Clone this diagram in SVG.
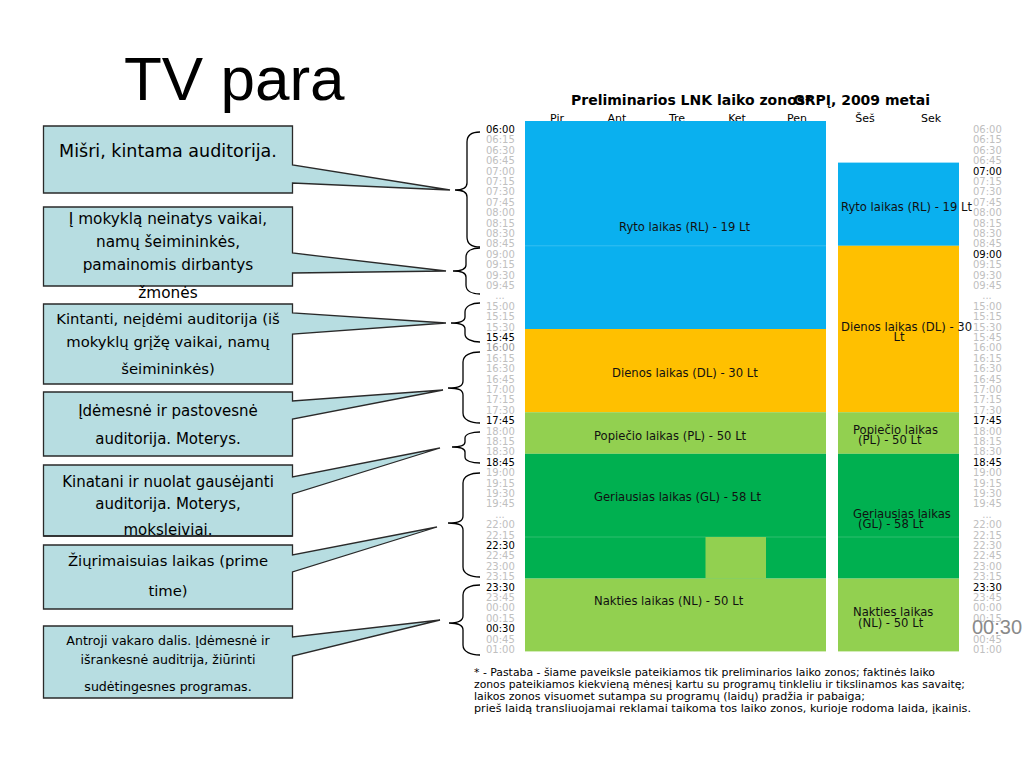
<svg xmlns="http://www.w3.org/2000/svg" width="1024" height="768" viewBox="0 0 1024 768">
<style>
.bx{fill:#b7dde1;stroke:#2a2a2a;stroke-width:1.3}
.bo{fill:none;stroke:#2a2a2a;stroke-width:1.3}
.ct{font-family:"DejaVu Sans",Verdana,sans-serif;fill:#000;text-anchor:middle}
.tl{font-family:"DejaVu Sans",Verdana,sans-serif;font-size:10px;fill:#c0c0c0}
.dk{fill:#000}
.zl{font-family:"DejaVu Sans",Verdana,sans-serif;font-size:11.6px;fill:#111}
.dy{font-family:"DejaVu Sans",Verdana,sans-serif;font-size:11px;fill:#000;text-anchor:middle}
.hd{font-family:"DejaVu Sans",Verdana,sans-serif;font-size:14px;font-weight:bold;fill:#000}
.fn{font-family:"DejaVu Sans",Verdana,sans-serif;font-size:11px;fill:#000}
.br{fill:none;stroke:#000;stroke-width:1.3}
.sep{stroke:#ffffff;stroke-opacity:0.18;stroke-width:1}
</style>
<rect width="1024" height="768" fill="#ffffff"/>
<text x="124" y="100" font-family="Liberation Sans,Arial,sans-serif" font-size="62" fill="#000">TV para</text>

<g id="header">
<text class="hd" x="571" y="105">Preliminarios LNK laiko zonos*</text>
<text class="hd" x="930" y="105" text-anchor="end">GRPĮ, 2009 metai</text>
<text class="dy" x="557" y="122">Pir</text>
<text class="dy" x="617" y="122">Ant</text>
<text class="dy" x="677" y="122">Tre</text>
<text class="dy" x="737" y="122">Ket</text>
<text class="dy" x="797" y="122">Pen</text>
<text class="dy" x="865" y="122">Šeš</text>
<text class="dy" x="931" y="122">Sek</text>
</g>

<g id="weekday-zones">
<rect x="525" y="121" width="301" height="208" fill="#0ab0ef"/>
<line class="sep" x1="525" y1="245.8" x2="826" y2="245.8"/>
<rect x="525" y="329" width="301" height="83.2" fill="#ffc000"/>
<rect x="525" y="412.2" width="301" height="41.6" fill="#92d050"/>
<rect x="525" y="453.8" width="301" height="124.8" fill="#00b050"/>
<line class="sep" x1="525" y1="537" x2="826" y2="537"/>
<rect x="705.5" y="537" width="60.5" height="41.6" fill="#92d050"/>
<rect x="525" y="578.6" width="301" height="72.8" fill="#92d050"/>
<text class="zl" x="619" y="231">Ryto laikas (RL) - 19 Lt</text>
<text class="zl" x="612" y="377">Dienos laikas (DL) - 30 Lt</text>
<text class="zl" x="594" y="440">Popiečio laikas (PL) - 50 Lt</text>
<text class="zl" x="594" y="501">Geriausias laikas (GL) - 58 Lt</text>
<text class="zl" x="594" y="605">Nakties laikas (NL) - 50 Lt</text>
</g>

<g id="weekend-zones">
<rect x="838" y="162.6" width="121" height="83.2" fill="#0ab0ef"/>
<rect x="838" y="245.8" width="121" height="166.4" fill="#ffc000"/>
<rect x="838" y="412.2" width="121" height="41.6" fill="#92d050"/>
<rect x="838" y="453.8" width="121" height="124.8" fill="#00b050"/>
<line class="sep" x1="838" y1="537" x2="959" y2="537"/>
<rect x="838" y="578.6" width="121" height="72.8" fill="#92d050"/>
<text class="zl" x="841" y="211">Ryto laikas (RL) - 19 Lt</text>
<text class="zl" x="841" y="331">Dienos laikas (DL) - 30</text>
<text class="zl" x="899" y="341" text-anchor="middle">Lt</text>
<text class="zl" x="853" y="434">Popiečio laikas</text>
<text class="zl" x="858" y="444">(PL) - 50 Lt</text>
<text class="zl" x="853" y="518">Geriausias laikas</text>
<text class="zl" x="858" y="528">(GL) - 58 Lt</text>
<text class="zl" x="853" y="616">Nakties laikas</text>
<text class="zl" x="858" y="627">(NL) - 50 Lt</text>
</g>

<g id="times-left">
<text class="tl dk" x="486" y="133">06:00</text>
<text class="tl" x="486" y="143.4">06:15</text>
<text class="tl" x="486" y="153.8">06:30</text>
<text class="tl" x="486" y="164.2">06:45</text>
<text class="tl" x="486" y="174.6">07:00</text>
<text class="tl" x="486" y="185">07:15</text>
<text class="tl" x="486" y="195.4">07:30</text>
<text class="tl" x="486" y="205.8">07:45</text>
<text class="tl" x="486" y="216.2">08:00</text>
<text class="tl" x="486" y="226.6">08:15</text>
<text class="tl" x="486" y="237">08:30</text>
<text class="tl" x="486" y="247.4">08:45</text>
<text class="tl" x="486" y="257.8">09:00</text>
<text class="tl" x="486" y="268.2">09:15</text>
<text class="tl" x="486" y="278.6">09:30</text>
<text class="tl" x="486" y="289">09:45</text>
<text class="tl" x="500" y="299.4" text-anchor="middle">...</text>
<text class="tl" x="486" y="309.8">15:00</text>
<text class="tl" x="486" y="320.2">15:15</text>
<text class="tl" x="486" y="330.6">15:30</text>
<text class="tl dk" x="486" y="341">15:45</text>
<text class="tl" x="486" y="351.4" style="fill:#9a9a9a">16:00</text>
<text class="tl" x="486" y="361.8">16:15</text>
<text class="tl" x="486" y="372.2">16:30</text>
<text class="tl" x="486" y="382.6">16:45</text>
<text class="tl" x="486" y="393">17:00</text>
<text class="tl" x="486" y="403.4">17:15</text>
<text class="tl" x="486" y="413.8">17:30</text>
<text class="tl dk" x="486" y="424.2">17:45</text>
<text class="tl" x="486" y="434.6">18:00</text>
<text class="tl" x="486" y="445">18:15</text>
<text class="tl" x="486" y="455.4">18:30</text>
<text class="tl dk" x="486" y="465.8">18:45</text>
<text class="tl" x="486" y="476.2">19:00</text>
<text class="tl" x="486" y="486.6">19:15</text>
<text class="tl" x="486" y="497">19:30</text>
<text class="tl" x="486" y="507.4">19:45</text>
<text class="tl" x="500" y="517.8" text-anchor="middle">...</text>
<text class="tl" x="486" y="528.2">22:00</text>
<text class="tl" x="486" y="538.6">22:15</text>
<text class="tl dk" x="486" y="549">22:30</text>
<text class="tl" x="486" y="559.4">22:45</text>
<text class="tl" x="486" y="569.8">23:00</text>
<text class="tl" x="486" y="580.2">23:15</text>
<text class="tl dk" x="486" y="590.6">23:30</text>
<text class="tl" x="486" y="601">23:45</text>
<text class="tl" x="486" y="611.4">00:00</text>
<text class="tl" x="486" y="621.8">00:15</text>
<text class="tl dk" x="486" y="632.2">00:30</text>
<text class="tl" x="486" y="642.6">00:45</text>
<text class="tl" x="486" y="653">01:00</text>
</g>

<g id="times-right">
<text class="tl" x="973" y="133">06:00</text>
<text class="tl" x="973" y="143.4">06:15</text>
<text class="tl" x="973" y="153.8">06:30</text>
<text class="tl" x="973" y="164.2">06:45</text>
<text class="tl dk" x="973" y="174.6">07:00</text>
<text class="tl" x="973" y="185">07:15</text>
<text class="tl" x="973" y="195.4">07:30</text>
<text class="tl" x="973" y="205.8">07:45</text>
<text class="tl" x="973" y="216.2">08:00</text>
<text class="tl" x="973" y="226.6">08:15</text>
<text class="tl" x="973" y="237">08:30</text>
<text class="tl" x="973" y="247.4">08:45</text>
<text class="tl dk" x="973" y="257.8">09:00</text>
<text class="tl" x="973" y="268.2">09:15</text>
<text class="tl" x="973" y="278.6">09:30</text>
<text class="tl" x="973" y="289">09:45</text>
<text class="tl" x="987" y="299.4" text-anchor="middle">...</text>
<text class="tl" x="973" y="309.8">15:00</text>
<text class="tl" x="973" y="320.2">15:15</text>
<text class="tl" x="973" y="330.6">15:30</text>
<text class="tl" x="973" y="341">15:45</text>
<text class="tl" x="973" y="351.4">16:00</text>
<text class="tl" x="973" y="361.8">16:15</text>
<text class="tl" x="973" y="372.2">16:30</text>
<text class="tl" x="973" y="382.6">16:45</text>
<text class="tl" x="973" y="393">17:00</text>
<text class="tl" x="973" y="403.4">17:15</text>
<text class="tl" x="973" y="413.8">17:30</text>
<text class="tl dk" x="973" y="424.2">17:45</text>
<text class="tl" x="973" y="434.6">18:00</text>
<text class="tl" x="973" y="445">18:15</text>
<text class="tl" x="973" y="455.4">18:30</text>
<text class="tl dk" x="973" y="465.8">18:45</text>
<text class="tl" x="973" y="476.2">19:00</text>
<text class="tl" x="973" y="486.6">19:15</text>
<text class="tl" x="973" y="497">19:30</text>
<text class="tl" x="973" y="507.4">19:45</text>
<text class="tl" x="987" y="517.8" text-anchor="middle">...</text>
<text class="tl" x="973" y="528.2">22:00</text>
<text class="tl" x="973" y="538.6">22:15</text>
<text class="tl" x="973" y="549">22:30</text>
<text class="tl" x="973" y="559.4">22:45</text>
<text class="tl" x="973" y="569.8">23:00</text>
<text class="tl" x="973" y="580.2">23:15</text>
<text class="tl dk" x="973" y="590.6">23:30</text>
<text class="tl" x="973" y="601">23:45</text>
<text class="tl" x="973" y="611.4">00:00</text>
<text class="tl" x="973" y="621.8">00:15</text>
<text class="tl" x="973" y="642.6">00:45</text>
<text class="tl" x="973" y="653">01:00</text>
<text x="972" y="634" font-family="Liberation Sans,Arial,sans-serif" font-size="20" fill="#8a8a8a">00:30</text>
</g>

<g id="braces">
<path class="br" d="M480,132 C472,132 467,135 467,142 L467,183 C467,188 463,190 455,190 C463,190 467,192 467,197 L467,237 C467,244 472,247 480,247"/>
<path class="br" d="M480,248 C472,248 466,251 466,257 L466,265 C466,269 462,271 453,271 C462,271 466,273 466,277 L466,285 C466,291 472,294 480,294"/>
<path class="br" d="M480,303 C472,303 465,306 465,312 L465,317 C465,321 461,323 451,323 C461,323 465,325 465,329 L465,334 C465,339 472,342 480,342"/>
<path class="br" d="M480,352 C471,352 463,355 463,362 L463,381 C463,386 459,388 448,388 C459,388 463,390 463,395 L463,413 C463,420 471,423 480,423"/>
<path class="br" d="M480,432 C472,432 465,434 465,438 L465,442 C465,445 461,447 452,447 C461,447 465,449 465,452 L465,457 C465,461 472,463 480,463"/>
<path class="br" d="M480,473 C471,473 463,476 463,483 L463,516 C463,521 459,523 448,523 C459,523 463,525 463,530 L463,567 C463,574 471,577 480,577"/>
<path class="br" d="M480,585 C471,585 463,588 463,595 L463,616 C463,621 459,623 449,623 C459,623 463,625 463,630 L463,645 C463,652 471,655 480,655"/>
</g>

<g id="callout-1">
<path class="bx" d="M43.5,126 H292.5 V165 L450,190 L292.5,183 V193 H43.5 Z"/>
<text class="ct" x="168" y="157" font-size="17.5">Mišri, kintama auditorija.</text>
</g>
<g id="callout-2">
<path class="bx" d="M43.5,207 H292.5 V253 L446,271 L292.5,273 V286 H43.5 Z"/>
<text class="ct" x="168" y="224" font-size="15.3">Į mokyklą neinatys vaikai,</text>
<text class="ct" x="168" y="247" font-size="15.3">namų šeimininkės,</text>
<text class="ct" x="168" y="270" font-size="15.3">pamainomis dirbantys</text>
<text class="ct" x="168" y="298" font-size="15.3">žmonės</text>
</g>
<g id="callout-3">
<path class="bx" d="M43.5,304 H292.5 V313 L446,323 L292.5,334 V384 H43.5 Z"/>
<text class="ct" x="168" y="324" font-size="14.8">Kintanti, neįdėmi auditorija (iš</text>
<text class="ct" x="168" y="347" font-size="14.8">mokyklų grįžę vaikai, namų</text>
<text class="ct" x="168" y="374" font-size="14.8">šeimininkės)</text>
</g>
<g id="callout-4">
<path class="bx" d="M43.5,392 H292.5 V401 L443,390 L292.5,419 V456 H43.5 Z"/>
<text class="ct" x="168" y="416" font-size="15">Įdėmesnė ir pastovesnė</text>
<text class="ct" x="168" y="444" font-size="15">auditorija. Moterys.</text>
</g>
<g id="callout-5">
<path class="bx" d="M43.5,465 H292.5 V477 L440,448 L292.5,494 V536 H43.5 Z"/>
<text class="ct" x="168" y="487" font-size="15">Kinatani ir nuolat gausėjanti</text>
<text class="ct" x="168" y="509" font-size="15">auditorija. Moterys,</text>
<text class="ct" x="168" y="535" font-size="15">moksleiviai.</text>
<path class="bo" d="M43.5,536 H292.5"/>
</g>
<g id="callout-6">
<path class="bx" d="M43.5,545 H292.5 V555 L437,527 L292.5,572 V609 H43.5 Z"/>
<text class="ct" x="168" y="566" font-size="14.8">Žiųrimaisuias laikas (prime</text>
<text class="ct" x="168" y="596" font-size="14.8">time)</text>
</g>
<g id="callout-7">
<path class="bx" d="M43.5,626 H292.5 V637 L440,620 L292.5,656 V698 H43.5 Z"/>
<text class="ct" x="168" y="645" font-size="12.6">Antroji vakaro dalis. Įdėmesnė ir</text>
<text class="ct" x="168" y="664" font-size="12.6">išrankesnė auditrija, žiūrinti</text>
<text class="ct" x="168" y="691" font-size="12.6">sudėtingesnes programas.</text>
</g>

<g id="footnote">
<text class="fn" x="474" y="676" textLength="461" lengthAdjust="spacingAndGlyphs">* - Pastaba - šiame paveiksle pateikiamos tik preliminarios laiko zonos; faktinės laiko</text>
<text class="fn" x="474" y="688" textLength="491" lengthAdjust="spacingAndGlyphs">zonos pateikiamos kiekvieną mėnesį kartu su programų tinkleliu ir tikslinamos kas savaitę;</text>
<text class="fn" x="474" y="700" textLength="391" lengthAdjust="spacingAndGlyphs">laikos zonos visuomet sutampa su programų (laidų) pradžia ir pabaiga;</text>
<text class="fn" x="474" y="712" textLength="497" lengthAdjust="spacingAndGlyphs">prieš laidą transliuojamai reklamai taikoma tos laiko zonos, kurioje rodoma laida, įkainis.</text>
</g>
</svg>
